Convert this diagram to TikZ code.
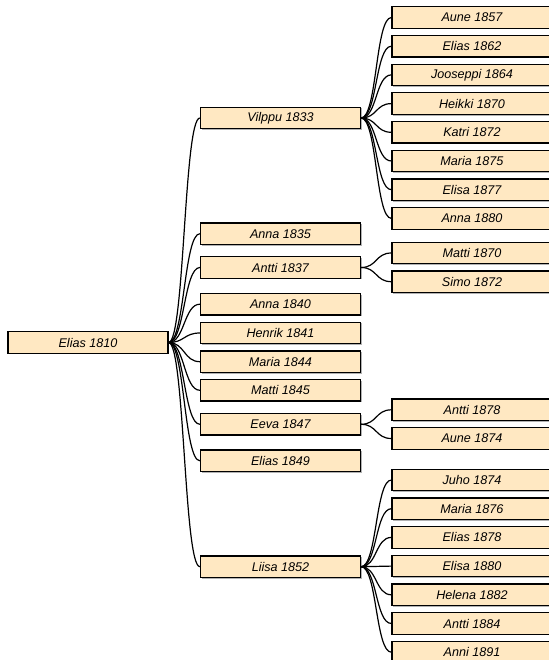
\documentclass[tikz,border=0pt]{standalone}
\usepackage{fontspec}
\setmainfont{Liberation Sans}
\usetikzlibrary{shadows}
\definecolor{boxfill}{HTML}{FFE8C2}
\tikzset{
	person/.style={draw=black, line width=1.2pt, fill=boxfill, minimum width=160pt, minimum height=21.5pt, inner sep=0pt,
		font=\fontsize{12.6}{14}\selectfont\itshape,
		drop shadow={shadow xshift=1pt, shadow yshift=-1.2pt, opacity=0.3, fill=black}},
	branchline/.style={line width=1.2pt, draw=black}
}
\def\branch(#1)(#2){\draw[branchline] (#1.east) .. controls +(16,0) and +(-16,0) .. (#2.west);}

\begin{document}
\begin{tikzpicture}[x=1pt, y=-1pt]
		%%%%% START %%%%%
		\useasboundingbox (0, 0) rectangle (548, 660);
		
		\node[person] (elias1810) at (88, 342.5) {Elias 1810};
		
		\node[person] (vilppu1833) at (280.5, 118) {Vilppu 1833};
		\node[person] (anna1835) at (280.5, 233.7) {Anna 1835};
		\node[person] (antti1837) at (280.5, 267.5) {Antti 1837};
		\node[person] (anna1840) at (280.5, 304.2) {Anna 1840};
		\node[person] (henrik1841) at (280.5, 333) {Henrik 1841};
		\node[person] (maria1844) at (280.5, 361.7) {Maria 1844};
		\node[person] (matti1845) at (280.5, 390.3) {Matti 1845};
		\node[person] (eeva1847) at (280.5, 424.3) {Eeva 1847};
		\node[person] (elias1849) at (280.5, 460.8) {Elias 1849};
		\node[person] (liisa1852) at (280.5, 566.7) {Liisa 1852};
		
		\node[person] (aune1857) at (472, 17.5) {Aune 1857};
		\node[person] (elias1862) at (472, 46.2) {Elias 1862};
		\node[person] (jooseppi1864) at (472, 74.9) {Jooseppi 1864};
		\node[person] (heikki1870) at (472, 103.6) {Heikki 1870};
		\node[person] (katri1872) at (472, 132.3) {Katri 1872};
		\node[person] (maria1875) at (472, 161) {Maria 1875};
		\node[person] (elisa1877) at (472, 189.7) {Elisa 1877};
		\node[person] (anna1880) at (472, 218.4) {Anna 1880};
		
		\node[person] (matti1870) at (472, 253) {Matti 1870};
		\node[person] (simo1872) at (472, 281.7) {Simo 1872};
		
		\node[person] (antti1878) at (472, 409.8) {Antti 1878};
		\node[person] (aune1874) at (472, 438.5) {Aune 1874};
		
		\node[person] (juho1874) at (472, 480) {Juho 1874};
		\node[person] (maria1876) at (472, 508.7) {Maria 1876};
		\node[person] (elias1878) at (472, 537.4) {Elias 1878};
		\node[person] (elisa1880) at (472, 566.1) {Elisa 1880};
		\node[person] (helena1882) at (472, 594.8) {Helena 1882};
		\node[person] (antti1884) at (472, 623.5) {Antti 1884};
		\node[person] (anni1891) at (472, 652.2) {Anni 1891};
		
		\branch(elias1810)(vilppu1833)
		\branch(elias1810)(anna1835)
		\branch(elias1810)(antti1837)
		\branch(elias1810)(anna1840)
		\branch(elias1810)(henrik1841)
		\branch(elias1810)(maria1844)
		\branch(elias1810)(matti1845)
		\branch(elias1810)(eeva1847)
		\branch(elias1810)(elias1849)
		\branch(elias1810)(liisa1852)
		
		\branch(vilppu1833)(aune1857)
		\branch(vilppu1833)(elias1862)
		\branch(vilppu1833)(jooseppi1864)
		\branch(vilppu1833)(heikki1870)
		\branch(vilppu1833)(katri1872)
		\branch(vilppu1833)(maria1875)
		\branch(vilppu1833)(elisa1877)
		\branch(vilppu1833)(anna1880)
		
		\branch(antti1837)(matti1870)
		\branch(antti1837)(simo1872)
		
		\branch(eeva1847)(antti1878)
		\branch(eeva1847)(aune1874)
		
		\branch(liisa1852)(juho1874)
		\branch(liisa1852)(maria1876)
		\branch(liisa1852)(elias1878)
		\branch(liisa1852)(elisa1880)
		\branch(liisa1852)(helena1882)
		\branch(liisa1852)(antti1884)
		\branch(liisa1852)(anni1891)
		
		%%%%% END %%%%%
	\end{tikzpicture}
\end{document}
